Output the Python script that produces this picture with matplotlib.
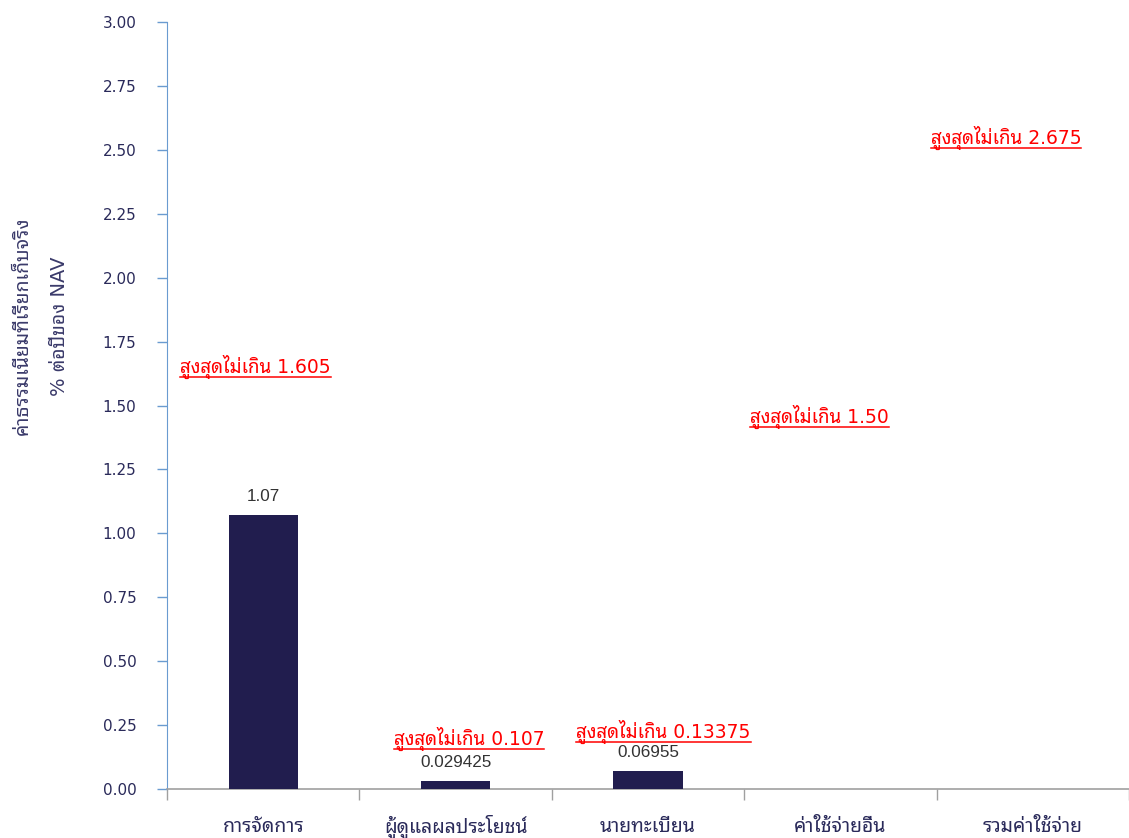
import matplotlib
matplotlib.use("Agg")
import matplotlib.pyplot as plt
from matplotlib.lines import Line2D

plt.rcParams['font.family'] = ['DejaVu Sans', 'Noto Sans Thai Looped']

# data
categories = ['การจัดการ', 'ผู้ดูแลผลประโยชน์', 'นายทะเบียน', 'ค่าใช้จ่ายอื่น', 'รวมค่าใช้จ่าย']
actual_fee = [1.07, 0.029425, 0.06955, None, None]
fee_labels = ['1.07', '0.029425', '0.06955', '', '']
cap_text = ['สูงสุดไม่เกิน 1.605', 'สูงสุดไม่เกิน 0.107', 'สูงสุดไม่เกิน 0.13375',
            'สูงสุดไม่เกิน 1.50', 'สูงสุดไม่เกิน 2.675']
y_ticks = [0.0, 0.25, 0.5, 0.75, 1.0, 1.25, 1.5, 1.75, 2.0, 2.25, 2.5, 2.75, 3.0]

# where the red cap notes sit (data coords)
cap_x = [-0.04, 1.07, 2.08, 2.89, 3.86]
cap_y = [1.65, 0.195, 0.222, 1.455, 2.545]

NAVY = '#211d4e'
TEXT = '#2a2a5a'

fig = plt.figure(figsize=(11.29, 8.38), dpi=100)
ax = fig.add_axes([167 / 1129, 1 - 789 / 838, 1 - 167 / 1129, (789 - 22) / 838])

x = list(range(len(categories)))
heights = [v if v is not None else 0 for v in actual_fee]
ax.bar(x, heights, width=0.36, color=NAVY, zorder=3)

for i, (v, lab) in enumerate(zip(actual_fee, fee_labels)):
    if v is None:
        continue
    ax.annotate(lab, (i, v), xytext=(0, 8), textcoords='offset points',
                ha='center', va='bottom', fontsize=12.3, color='#333333',
                family=['Liberation Sans'])

ax.set_xlim(-0.5, len(categories) - 0.5)
ax.set_ylim(0, 3.0)
ax.set_yticks(y_ticks)
ax.set_yticklabels([f'{t:.2f}' for t in y_ticks])
ax.set_xticks(x)
ax.set_xticklabels(categories)
ax.set_xticks([i - 0.5 for i in range(len(categories) + 1)], minor=True)

ax.tick_params(axis='y', length=7, width=1, color='#6a9bd0', pad=15,
               labelsize=11, labelcolor=TEXT)
ax.tick_params(axis='x', which='major', length=0, pad=27, labelsize=14, labelcolor=TEXT)
ax.tick_params(axis='x', which='minor', length=8, width=1, color='#a0a0a0')
for lab in ax.get_xticklabels():
    lab.set_va('center')

for s in ['top', 'right']:
    ax.spines[s].set_visible(False)
ax.spines['left'].set_color('#6a9bd0')
ax.spines['bottom'].set_color('#a0a0a0')
ax.spines['bottom'].set_linewidth(1.2)

fig.text(41 / 1129, 1 - 326 / 838, 'ค่าธรรมเนียมที่เรียกเก็บจริง\n% ต่อปีของ NAV',
         rotation=90, ha='center', va='center', multialignment='center',
         fontsize=14, color='#3a3a6a', linespacing=2.15)

caps = []
for tx, xx, yy in zip(cap_text, cap_x, cap_y):
    caps.append(ax.text(xx, yy, tx, ha='center', va='center', fontsize=13.5,
                        color='#ff0000', zorder=4))

# underline the red notes
fig.canvas.draw()
r = fig.canvas.get_renderer()
W, H = fig.get_size_inches() * fig.dpi
for t in caps:
    bb = t.get_window_extent(renderer=r)
    yl = (bb.y0 + 2) / H
    fig.add_artist(Line2D([bb.x0 / W, bb.x1 / W], [yl, yl], color='#ff0000', lw=1.1))

fig.savefig('out.png', dpi=100)
